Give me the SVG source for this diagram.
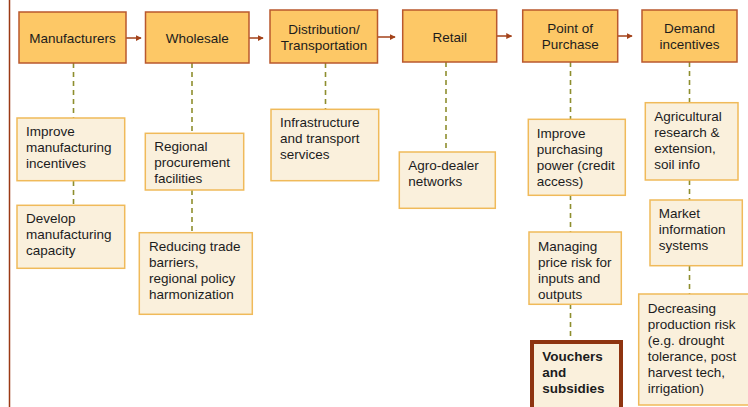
<svg xmlns="http://www.w3.org/2000/svg" width="748" height="407" viewBox="0 0 748 407">
  <defs>
    <marker id="arrow" viewBox="0 0 8 8" refX="7" refY="4" markerWidth="6" markerHeight="6" markerUnits="userSpaceOnUse" orient="auto">
      <path d="M0,0 L8,4 L0,8 Z" fill="#A3421A"/>
    </marker>
    <style>
      .stage rect { fill: #FDC866; stroke: #B9582E; stroke-width: 1.5; }
      .item rect { fill: #FAF0DC; stroke: #F0BA5A; stroke-width: 1.5; }
      .key rect { fill: #FAF0DC; stroke: #8E3410; stroke-width: 4; }
      text { font-family: "Liberation Sans", Arial, sans-serif; font-size: 13.5px; fill: #1C1C1C; }
      .stage text { text-anchor: middle; }
      .key text { font-weight: bold; }
      .flow { stroke: #A3421A; stroke-width: 1.5; fill: none; marker-end: url(#arrow); }
      .link { stroke: #8E8E2E; stroke-width: 1.6; stroke-dasharray: 5 4; fill: none; }
    </style>
  </defs>
  <rect width="748" height="407" fill="#FFFFFF"/>
  <line x1="9.5" y1="0" x2="9.5" y2="407" stroke="#9B3A14" stroke-width="1.5"/>

  <!-- connectors -->
  <g id="connectors">
    <line class="flow" x1="126" y1="38" x2="141" y2="38"/>
    <line class="flow" x1="249" y1="38" x2="263" y2="38"/>
    <line class="flow" x1="378" y1="37" x2="395" y2="37"/>
    <line class="flow" x1="497" y1="36" x2="511.5" y2="36"/>
    <line class="flow" x1="618" y1="36" x2="632" y2="36"/>

    <line class="link" x1="73.5" y1="63" x2="73.5" y2="118"/>
    <line class="link" x1="73.5" y1="181" x2="73.5" y2="205"/>
    <line class="link" x1="192" y1="63" x2="192" y2="133"/>
    <line class="link" x1="192" y1="190" x2="192" y2="232"/>
    <line class="link" x1="325.5" y1="63" x2="325.5" y2="109"/>
    <line class="link" x1="446" y1="62" x2="446" y2="152"/>
    <line class="link" x1="570.5" y1="62" x2="570.5" y2="119"/>
    <line class="link" x1="570.5" y1="195" x2="570.5" y2="232"/>
    <line class="link" x1="570.5" y1="304" x2="570.5" y2="340"/>
    <line class="link" x1="689.5" y1="62" x2="689.5" y2="102"/>
    <line class="link" x1="689.5" y1="180" x2="689.5" y2="200"/>
    <line class="link" x1="689.5" y1="266" x2="689.5" y2="294"/>
  </g>

  <!-- supply chain stages -->
  <g id="manufacturers" class="stage">
    <rect x="19" y="12" width="107" height="51"/>
    <text x="72.5" y="42.5">Manufacturers</text>
  </g>
  <g id="wholesale" class="stage">
    <rect x="145.5" y="12" width="103.5" height="51"/>
    <text x="197.3" y="42.5">Wholesale</text>
  </g>
  <g id="distribution" class="stage">
    <rect x="270" y="10" width="107.5" height="53"/>
    <text x="324" y="34">Distribution/</text>
    <text x="324" y="50">Transportation</text>
  </g>
  <g id="retail" class="stage">
    <rect x="402.7" y="10" width="94" height="52"/>
    <text x="449.7" y="41.5">Retail</text>
  </g>
  <g id="point-of-purchase" class="stage">
    <rect x="522.7" y="10" width="95" height="52"/>
    <text x="570.2" y="33">Point of</text>
    <text x="570.2" y="49">Purchase</text>
  </g>
  <g id="demand-incentives" class="stage">
    <rect x="642" y="10" width="95" height="52"/>
    <text x="689.5" y="33">Demand</text>
    <text x="689.5" y="49">incentives</text>
  </g>

  <!-- interventions -->
  <g id="improve-manufacturing" class="item">
    <rect x="17" y="118" width="107.7" height="62.7"/>
    <text x="26" y="136">Improve</text>
    <text x="26" y="152">manufacturing</text>
    <text x="26" y="168">incentives</text>
  </g>
  <g id="develop-capacity" class="item">
    <rect x="17" y="205.3" width="107.7" height="63"/>
    <text x="26" y="222.5">Develop</text>
    <text x="26" y="238.5">manufacturing</text>
    <text x="26" y="254.5">capacity</text>
  </g>
  <g id="regional-procurement" class="item">
    <rect x="145.3" y="133.3" width="98.4" height="56.7"/>
    <text x="154.3" y="151">Regional</text>
    <text x="154.3" y="167">procurement</text>
    <text x="154.3" y="183">facilities</text>
  </g>
  <g id="trade-barriers" class="item">
    <rect x="139.3" y="232.7" width="113" height="81.6"/>
    <text x="149" y="251">Reducing trade</text>
    <text x="149" y="267">barriers,</text>
    <text x="149" y="283">regional policy</text>
    <text x="149" y="299">harmonization</text>
  </g>
  <g id="infrastructure" class="item">
    <rect x="271" y="109.3" width="107.7" height="71.4"/>
    <text x="280" y="127">Infrastructure</text>
    <text x="280" y="143">and transport</text>
    <text x="280" y="159">services</text>
  </g>
  <g id="agro-dealer" class="item">
    <rect x="399.3" y="152" width="96" height="56.3"/>
    <text x="408.3" y="169.5">Agro-dealer</text>
    <text x="408.3" y="185.5">networks</text>
  </g>
  <g id="purchasing-power" class="item">
    <rect x="528.3" y="119.3" width="97" height="76"/>
    <text x="536.7" y="138">Improve</text>
    <text x="536.7" y="154">purchasing</text>
    <text x="536.7" y="170">power (credit</text>
    <text x="536.7" y="186">access)</text>
  </g>
  <g id="price-risk" class="item">
    <rect x="529" y="232" width="92.3" height="72.3"/>
    <text x="538" y="250.5">Managing</text>
    <text x="538" y="266.5">price risk for</text>
    <text x="538" y="282.5">inputs and</text>
    <text x="538" y="298.5">outputs</text>
  </g>
  <g id="vouchers" class="key">
    <rect x="532" y="342" width="89" height="80"/>
    <text x="542.3" y="361">Vouchers</text>
    <text x="542.3" y="377">and</text>
    <text x="542.3" y="393">subsidies</text>
  </g>
  <g id="agricultural-research" class="item">
    <rect x="645.3" y="102.7" width="92.7" height="77.3"/>
    <text x="654.3" y="120.5">Agricultural</text>
    <text x="654.3" y="136.5">research &amp;</text>
    <text x="654.3" y="152.5">extension,</text>
    <text x="654.3" y="168.5">soil info</text>
  </g>
  <g id="market-information" class="item">
    <rect x="650" y="200" width="92.3" height="65.7"/>
    <text x="658.7" y="218">Market</text>
    <text x="658.7" y="234">information</text>
    <text x="658.7" y="250">systems</text>
  </g>
  <g id="production-risk" class="item">
    <rect x="638.7" y="294" width="120" height="111"/>
    <text x="647.7" y="313">Decreasing</text>
    <text x="647.7" y="329">production risk</text>
    <text x="647.7" y="345">(e.g. drought</text>
    <text x="647.7" y="361">tolerance, post</text>
    <text x="647.7" y="377">harvest tech,</text>
    <text x="647.7" y="393">irrigation)</text>
  </g>
</svg>
